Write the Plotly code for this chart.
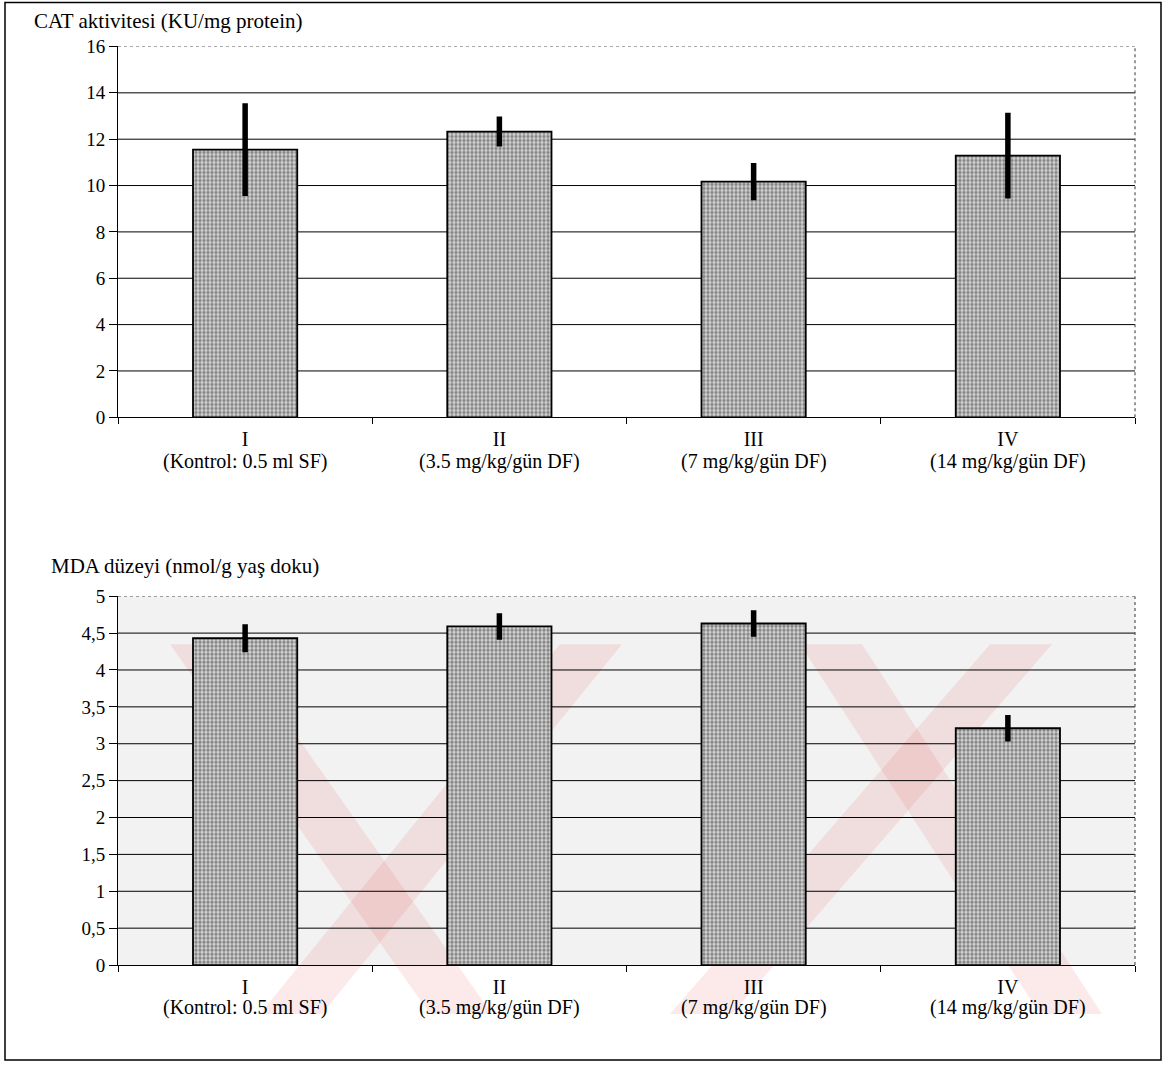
import plotly.graph_objects as go

# ---------------- data ----------------
categories = ["I", "II", "III", "IV"]
group_labels = [
    "(Kontrol: 0.5 ml SF)",
    "(3.5 mg/kg/gün DF)",
    "(7 mg/kg/gün DF)",
    "(14 mg/kg/gün DF)",
]
cat_mean = [11.55, 12.33, 10.17, 11.29]
cat_err = [2.0, 0.65, 0.80, 1.85]
mda_mean = [4.43, 4.59, 4.63, 3.21]
mda_err = [0.19, 0.18, 0.18, 0.18]

cat_ticks = [0, 2, 4, 6, 8, 10, 12, 14, 16]
cat_ticktext = ["0", "2", "4", "6", "8", "10", "12", "14", "16"]
mda_ticks = [0, 0.5, 1, 1.5, 2, 2.5, 3, 3.5, 4, 4.5, 5]
mda_ticktext = ["0", "0,5", "1", "1,5", "2", "2,5", "3", "3,5", "4", "4,5", "5"]

cat_title = "CAT aktivitesi (KU/mg protein)"
mda_title = "MDA düzeyi (nmol/g yaş doku)"

# ---------------- layout helpers ----------------
W, H = 1165, 1066
FONT = "Liberation Serif"
OFF, HE = 10.5, 1045.5  # effective vertical placement of the paper in the page


def fx(x):
    return x / W


def fy(y):
    return 1 - (y - OFF) / HE


x0, x1 = fx(118), fx(1135)
top_dom = [fy(418), fy(47)]
bot_dom = [fy(966), fy(597)]

fig = go.Figure()

bar_style = dict(
    marker=dict(
        color="#d0d0d0",
        line=dict(color="black", width=1.8),
        pattern=dict(shape=".", fgcolor="#333333", bgcolor="#d6d6d6", size=4, solidity=0.55),
    ),
    width=0.41,
    showlegend=False,
)

fig.add_trace(go.Bar(
    x=categories, y=cat_mean, xaxis="x", yaxis="y",
    error_y=dict(type="data", array=cat_err, visible=True, thickness=5.5, width=0, color="black"),
    **bar_style,
))
fig.add_trace(go.Bar(
    x=categories, y=mda_mean, xaxis="x2", yaxis="y2",
    error_y=dict(type="data", array=mda_err, visible=True, thickness=5.5, width=0, color="black"),
    **bar_style,
))

xfont = dict(family=FONT, size=20, color="black")
yfont = dict(family=FONT, size=19, color="black")
xcommon = dict(
    type="category", range=[-0.5, 3.5], showline=True, linecolor="black", linewidth=1,
    ticks="outside", tickson="boundaries", ticklen=6, tickcolor="black",
    tickfont=xfont, showgrid=False, zeroline=False, domain=[x0, x1],
    ticklabelstandoff=4,
)
ycommon = dict(
    showline=True, linecolor="black", linewidth=1, ticks="outside", ticklen=8,
    tickcolor="black", tickfont=yfont, showgrid=False, zeroline=False,
)

shapes = []
# faint grey speckle tone of the lower plot area
shapes.append(dict(type="rect", xref="x2 domain", yref="y2", x0=0, x1=1, y0=0, y1=mda_ticks[-1],
                   fillcolor="rgba(0,0,0,0.05)", line=dict(width=0), layer="below"))
# watermark bands (faint pink)
wm_color = "rgba(225,45,45,0.10)"
for xt, dx in [(170, 260), (800, 240), (560, -300), (990, -320)]:
    yt, yb, w = 645, 1015, 62
    pts = [(xt, yt), (xt + w, yt), (xt + w + dx, yb), (xt + dx, yb)]
    path = "M " + " L ".join(f"{fx(a):.4f},{fy(b):.4f}" for a, b in pts) + " Z"
    shapes.append(dict(type="path", xref="paper", yref="paper", path=path,
                       fillcolor=wm_color, line=dict(width=0), layer="below"))

# gridlines
for yref, ticks in [("y", cat_ticks), ("y2", mda_ticks)]:
    xr = "x domain" if yref == "y" else "x2 domain"
    for v in ticks[1:-1]:
        shapes.append(dict(type="line", xref=xr, x0=0, x1=1, yref=yref, y0=v, y1=v,
                           line=dict(color="black", width=1), layer="below"))
    # dotted top and right plot-area borders
    shapes.append(dict(type="line", xref=xr, x0=0, x1=1, yref=yref, y0=ticks[-1], y1=ticks[-1],
                       line=dict(color="#555", width=1.2, dash="dot"), layer="below"))
    shapes.append(dict(type="line", xref=xr, x0=1, x1=1, yref=yref, y0=0, y1=ticks[-1],
                       line=dict(color="#555", width=1.2, dash="dot"), layer="below"))

# outer frame
shapes.append(dict(type="rect", xref="paper", yref="paper", x0=fx(5), y0=fy(1061), x1=fx(1161), y1=fy(3),
                   line=dict(color="black", width=1.5), fillcolor="rgba(0,0,0,0)"))

annotations = [
    dict(text=cat_title, x=fx(32), y=fy(22), xref="paper", yref="paper", xanchor="left", yanchor="middle",
         showarrow=False, font=dict(family=FONT, size=21, color="black")),
    dict(text=mda_title, x=fx(49), y=fy(567), xref="paper", yref="paper", xanchor="left", yanchor="middle",
         showarrow=False, font=dict(family=FONT, size=21, color="black")),
]
# second line of the category labels
for xa, yline in [("x", 462), ("x2", 1008)]:
    for cat, lab in zip(categories, group_labels):
        annotations.append(dict(text=lab, x=cat, xref=xa, y=fy(yline), yref="paper",
                                xanchor="center", yanchor="middle", showarrow=False,
                                font=dict(family=FONT, size=20, color="black")))

fig.update_layout(
    width=W, height=H, margin=dict(l=0, r=0, t=0, b=0),
    paper_bgcolor="white", plot_bgcolor="rgba(0,0,0,0)",
    xaxis=dict(anchor="y", **xcommon),
    yaxis=dict(anchor="x", domain=top_dom, range=[0, 16], tickvals=cat_ticks, ticktext=cat_ticktext, **ycommon),
    xaxis2=dict(anchor="y2", **xcommon),
    yaxis2=dict(anchor="x2", domain=bot_dom, range=[0, 5], tickvals=mda_ticks, ticktext=mda_ticktext, **ycommon),
    shapes=shapes, annotations=annotations, bargap=0.59, showlegend=False,
)

fig.write_html(
    "out.html",
    config=dict(displayModeBar=False),
    post_script="document.body.style.margin='0';document.body.style.overflow='hidden';",
)
